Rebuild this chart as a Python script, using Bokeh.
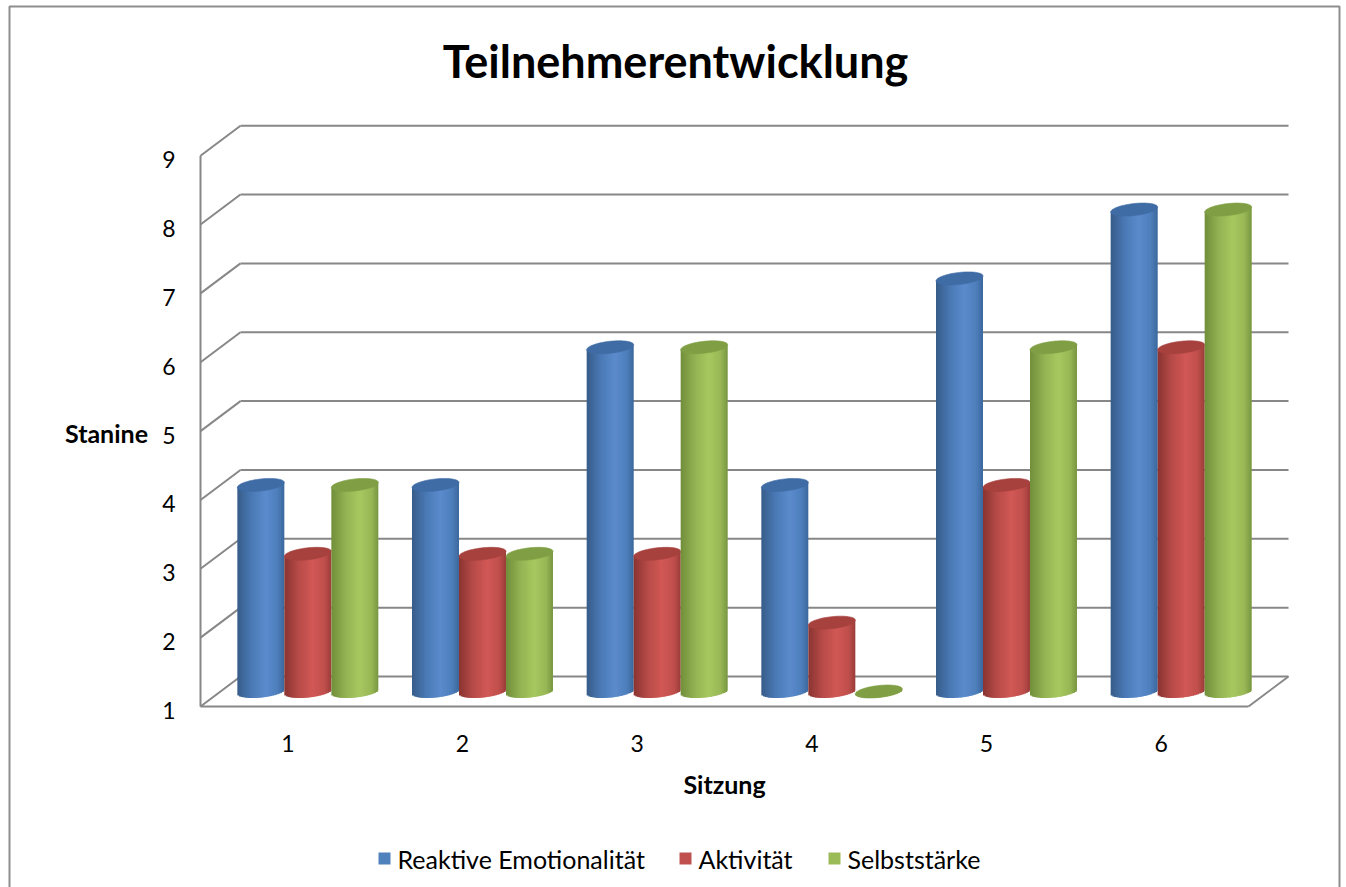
import numpy as np
from bokeh.plotting import figure
from bokeh.models import Range1d, ColumnDataSource
from bokeh.core.properties import value
from bokeh.embed import file_html
from bokeh.resources import INLINE

# ---- chart data -------------------------------------------------------
title_text = "Teilnehmerentwicklung"
x_axis_title = "Sitzung"
y_axis_title = "Stanine"
sessions = ["1", "2", "3", "4", "5", "6"]
y_ticks = [1, 2, 3, 4, 5, 6, 7, 8, 9]
series_names = ["Reaktive Emotionalität", "Aktivität", "Selbststärke"]
reaktive_emotionalitaet = [4, 4, 6, 4, 7, 8]
aktivitaet = [3, 3, 3, 2, 4, 6]
selbststaerke = [4, 3, 6, 1, 6, 8]

# ---- styling ----------------------------------------------------------
FONT = "Lato"
GRID = "#878787"
# cylinder shading: stops across the width (left edge -> right edge)
SHADE_POS = [0.0, 0.3, 0.6, 0.85, 1.0]
SHADES = [
    ["#375C89", "#4A79B5", "#5B8BCC", "#4E7FBC", "#3B679C"],
    ["#8A3431", "#B74B48", "#D15855", "#C04F4C", "#9A3D3A"],
    ["#718E39", "#93B253", "#A7C860", "#98B756", "#789640"],
]
TOP_COLORS = ["#3F6CA5", "#A6413E", "#809F45"]
LEGEND_COLORS = ["#4F81BD", "#C0504D", "#9BBB59"]

# ---- page geometry (screen pixels) -------------------------------------
W, H = 1346, 887
FX0, FX1 = 200, 1248          # front edge of the floor
FY1 = 706                     # front floor line (lowest tick)
PX_PER_Y = 68.85
DEPTH_X, DEPTH_Y = 40, 30     # oblique depth of the back wall
BAR_PX = 47
ELL_PX = 12
TILT = 0.105                  # slight perspective tilt of the ellipses

px_per_x = (FX1 - FX0) / len(sessions)


def sx(px):
    return 0.5 + (px - FX0) / px_per_x


def sy(py):
    return y_ticks[0] + (FY1 - py) / PX_PER_Y


p = figure(width=W, height=H,
           x_range=Range1d(sx(0), sx(W)), y_range=Range1d(sy(H), sy(0)),
           min_border=0, toolbar_location=None, output_backend="svg",
           x_axis_location=None, y_axis_location=None,
           outline_line_color=None, background_fill_color="white",
           border_fill_color="white")
p.grid.visible = False

ddx = DEPTH_X / px_per_x
ddy = DEPTH_Y / PX_PER_Y
x_lo, x_hi = 0.5, len(sessions) + 0.5
y_lo, y_hi = y_ticks[0], y_ticks[-1]

# ---- outer chart border -------------------------------------------------
p.line(x=[sx(9), sx(9), sx(1339), sx(1339)], y=[sy(H + 10), sy(6), sy(6), sy(H + 10)],
       line_color="#8E8E8E", line_width=2)

# ---- back wall gridlines and walls ------------------------------------
back_y = [v + ddy for v in y_ticks]
n = len(y_ticks)
p.segment(x0=[x_lo + ddx] * n, y0=back_y, x1=[x_hi + ddx] * n, y1=back_y,
          line_color=GRID, line_width=2)
p.segment(x0=[x_lo] * n, y0=y_ticks, x1=[x_lo + ddx] * n, y1=back_y,
          line_color=GRID, line_width=2)
p.segment(x0=[x_lo, x_lo, x_hi], y0=[y_lo, y_lo, y_lo],
          x1=[x_lo, x_hi, x_hi + ddx], y1=[y_hi, y_lo, y_lo + ddy],
          line_color=GRID, line_width=2)

# ---- cylinders ---------------------------------------------------------
bw = BAR_PX / px_per_x
a = bw / 2
b = (ELL_PX / PX_PER_Y) / 2
slope = np.tan(TILT) * px_per_x / PX_PER_Y  # data-y per data-x

N_STRIPS = 28


def shade(k, u):
    rgb = []
    for hexcol in SHADES[k]:
        rgb.append([int(hexcol[i:i + 2], 16) for i in (1, 3, 5)])
    rgb = np.array(rgb, dtype=float)
    out = []
    for uu in u:
        c = [np.interp(uu, SHADE_POS, rgb[:, j]) for j in range(3)]
        out.append("#%02x%02x%02x" % tuple(int(round(v)) for v in c))
    return out


series_values = [reaktive_emotionalitaet, aktivitaet, selbststaerke]
edges = np.linspace(-a, a, N_STRIPS + 1)
mids = (edges[:-1] + edges[1:]) / 2
u = (mids + a) / (2 * a)
strip_w = edges[1] - edges[0]
# each strip reaches a bit into its right neighbour so no seams show
rights = np.minimum(edges[1:] + 0.7 * strip_w, a)
theta = np.linspace(0, 2 * np.pi, 73)

for i in range(len(sessions)):
    for k, vals in enumerate(series_values):
        v = vals[i]
        cx = (i + 1) + ddx / 2 + (k - 1) * bw
        yb = y_lo + ddy / 2
        yt = v + ddy / 2
        bottom = yb - b * np.sqrt(np.clip(1 - (mids / a) ** 2, 0, 1)) + slope * mids
        top = yt + slope * mids
        cols = shade(k, u)
        src = ColumnDataSource(dict(left=cx + edges[:-1], right=cx + rights,
                                    top=top, bottom=bottom, color=cols))
        p.quad(left="left", right="right", top="top", bottom="bottom",
               fill_color="color", line_color=None, source=src)
        ex = cx + a * np.cos(theta)
        ey = yt + b * np.sin(theta) + slope * a * np.cos(theta)
        p.patch(x=ex, y=ey, fill_color=TOP_COLORS[k], line_color=TOP_COLORS[k],
                line_width=0.6)

# ---- texts ------------------------------------------------------------
p.text(x=[sx(675)], y=[sy(60)], text=[title_text], text_align="center",
       text_baseline="middle", text_font=value(FONT), text_font_style="bold",
       text_font_size="45px", text_color="black")

p.text(x=[sx(175)] * n, y=[v - 4 / PX_PER_Y for v in y_ticks],
       text=[str(v) for v in y_ticks], text_align="right", text_baseline="middle",
       text_font=value(FONT), text_font_size="23px", text_color="black")

p.text(x=list(range(1, len(sessions) + 1)), y=[sy(743)] * len(sessions),
       text=sessions, text_align="center", text_baseline="middle",
       text_font=value(FONT), text_font_size="23px", text_color="black")

p.text(x=[sx(106)], y=[(y_lo + y_hi) / 2 - 2 / PX_PER_Y], text=[y_axis_title],
       text_align="center", text_baseline="middle", text_font=value(FONT),
       text_font_style="bold", text_font_size="25px", text_color="black")

p.text(x=[(x_lo + x_hi) / 2], y=[sy(783)], text=[x_axis_title],
       text_align="center", text_baseline="middle", text_font=value(FONT),
       text_font_style="bold", text_font_size="25px", text_color="black")

# ---- legend -------------------------------------------------------------
leg_square_px = [384, 685, 834]
leg_y = sy(858)
p.rect(x=[sx(px) for px in leg_square_px], y=[leg_y] * 3,
       width=12 / px_per_x, height=12 / PX_PER_Y,
       fill_color=LEGEND_COLORS, line_color=None)
p.text(x=[sx(px + 13) for px in leg_square_px], y=[leg_y] * 3, text=series_names,
       text_align="left", text_baseline="middle", text_font=value(FONT),
       text_font_size="25px", text_color="black")

open("out.html", "w").write(file_html(p, INLINE))
